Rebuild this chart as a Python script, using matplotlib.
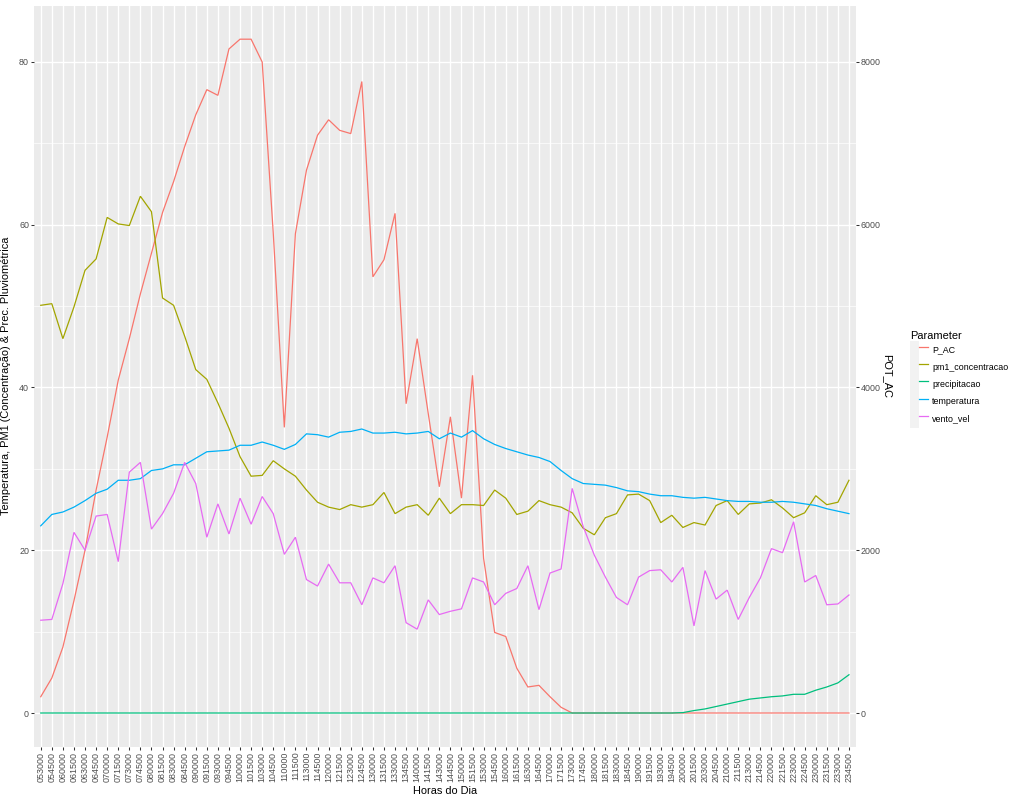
#!/usr/bin/env python3
"""
Daily profile of PV power (POT_AC) against weather parameters, ggplot-like look.
"""

import matplotlib

matplotlib.use("Agg")
import matplotlib.pyplot as plt
from matplotlib.lines import Line2D
from matplotlib.patches import Rectangle
from matplotlib.legend_handler import HandlerTuple

plt.rcParams["font.family"] = ["Liberation Sans", "DejaVu Sans"]

horas = [
    "053000", "054500", "060000", "061500", "063000", "064500", "070000", "071500",
    "073000", "074500", "080000", "081500", "083000", "084500", "090000", "091500",
    "093000", "094500", "100000", "101500", "103000", "104500", "110000", "111500",
    "113000", "114500", "120000", "121500", "123000", "124500", "130000", "131500",
    "133000", "134500", "140000", "141500", "143000", "144500", "150000", "151500",
    "153000", "154500", "160000", "161500", "163000", "164500", "170000", "171500",
    "173000", "174500", "180000", "181500", "183000", "184500", "190000", "191500",
    "193000", "194500", "200000", "201500", "203000", "204500", "210000", "211500",
    "213000", "214500", "220000", "221500", "223000", "224500", "230000", "231500",
    "233000", "234500",
]

# POT_AC (W), shown on the secondary axis (scale 1:100)
pot_ac = [
    200, 430, 810, 1380, 2000, 2740, 3390, 4090, 4600, 5150,
    5650, 6150, 6530, 6960, 7350, 7660, 7590, 8160, 8280, 8280,
    8000, 5900, 3510, 5890, 6670, 7100, 7290, 7160, 7120, 7760,
    5360, 5570, 6140, 3800, 4600, 3680, 2780, 3640, 2640, 4150,
    1900, 990, 940, 550, 320, 340, 200, 70, 0, 0,
    0, 0, 0, 0, 0, 0, 0, 0, 0, 0,
    0, 0, 0, 0, 0, 0, 0, 0, 0, 0,
    0, 0, 0, 0,
]

pm1_concentracao = [
    50.1, 50.3, 46.0, 49.9, 54.4, 55.8, 60.9, 60.1, 59.9, 63.5,
    61.6, 51.0, 50.1, 46.3, 42.2, 41.0, 38.1, 35.0, 31.5, 29.1,
    29.2, 31.0, 30.0, 29.1, 27.4, 25.9, 25.3, 25.0, 25.6, 25.3,
    25.6, 27.1, 24.5, 25.3, 25.6, 24.3, 26.4, 24.5, 25.6, 25.6,
    25.5, 27.4, 26.4, 24.4, 24.8, 26.1, 25.6, 25.3, 24.6, 22.7,
    21.9, 24.0, 24.5, 26.8, 26.9, 26.1, 23.4, 24.3, 22.8, 23.4,
    23.1, 25.5, 26.1, 24.4, 25.7, 25.8, 26.2, 25.2, 24.0, 24.6,
    26.7, 25.6, 25.9, 28.6,
]

precipitacao = [
    0, 0, 0, 0, 0, 0, 0, 0, 0, 0,
    0, 0, 0, 0, 0, 0, 0, 0, 0, 0,
    0, 0, 0, 0, 0, 0, 0, 0, 0, 0,
    0, 0, 0, 0, 0, 0, 0, 0, 0, 0,
    0, 0, 0, 0, 0, 0, 0, 0, 0, 0,
    0, 0, 0, 0, 0, 0, 0, 0, 0.05, 0.3,
    0.5, 0.8, 1.1, 1.4, 1.7, 1.85, 2.0, 2.1, 2.3, 2.3,
    2.8, 3.2, 3.7, 4.7,
]

temperatura = [
    23.0, 24.4, 24.7, 25.3, 26.1, 27.0, 27.5, 28.6, 28.6, 28.8,
    29.8, 30.0, 30.5, 30.5, 31.3, 32.1, 32.2, 32.3, 32.9, 32.9,
    33.3, 32.9, 32.4, 33.0, 34.3, 34.2, 33.9, 34.5, 34.6, 34.9,
    34.4, 34.4, 34.5, 34.3, 34.4, 34.6, 33.7, 34.4, 33.9, 34.7,
    33.7, 33.0, 32.5, 32.1, 31.7, 31.4, 30.9, 29.8, 28.8, 28.2,
    28.1, 28.0, 27.7, 27.3, 27.2, 26.9, 26.7, 26.7, 26.5, 26.4,
    26.5, 26.3, 26.1, 26.0, 26.0, 25.9, 25.9, 26.0, 25.9, 25.7,
    25.5, 25.1, 24.8, 24.5,
]

vento_vel = [
    11.4, 11.5, 15.9, 22.2, 20.0, 24.2, 24.4, 18.6, 29.6, 30.8,
    22.6, 24.5, 27.0, 30.8, 28.2, 21.6, 25.7, 22.0, 26.4, 23.2,
    26.6, 24.5, 19.5, 21.6, 16.4, 15.6, 18.3, 16.0, 16.0, 13.3,
    16.6, 16.0, 18.1, 11.1, 10.3, 13.9, 12.1, 12.5, 12.8, 16.6,
    16.1, 13.3, 14.7, 15.3, 18.1, 12.7, 17.2, 17.7, 27.6, 22.9,
    19.4, 16.7, 14.2, 13.3, 16.7, 17.5, 17.6, 16.1, 17.9, 10.7,
    17.5, 14.0, 15.1, 11.5, 14.2, 16.6, 20.2, 19.7, 23.5, 16.1,
    16.9, 13.3, 13.4, 14.5,
]

ESCALA = 100.0
parametros = ["P_AC", "pm1_concentracao", "precipitacao", "temperatura", "vento_vel"]
cores = ["#F8766D", "#A3A500", "#00BF7D", "#00B0F6", "#E76BF3"]
series = [
    [v / ESCALA for v in pot_ac],
    pm1_concentracao,
    precipitacao,
    temperatura,
    vento_vel,
]

W, H = 1024, 800
fig = plt.figure(figsize=(W / 100, H / 100), dpi=100)
ax = fig.add_axes([34.1 / W, 1 - 746.7 / H, (855.6 - 34.1) / W, (746.7 - 5.5) / H])
ax.set_facecolor("#EBEBEB")
for s in ax.spines.values():
    s.set_visible(False)

x = list(range(len(horas)))
for nome, cor, ys in zip(parametros, cores, series):
    ax.plot(x, ys, color=cor, linewidth=0.9, label=nome, zorder=3,
            solid_joinstyle="miter")

todos = [v for ys in series for v in ys]
lo, hi = min(todos), max(todos)
pad = 0.05 * (hi - lo)
ax.set_ylim(lo - pad, hi + pad)
ax.set_xlim(-0.6, len(horas) - 1 + 0.6)

ax.set_yticks([0, 20, 40, 60, 80])
ax.set_yticks([10, 30, 50, 70], minor=True)
ax.set_xticks(x)
ax.set_xticklabels(horas, rotation=90)
ax.grid(True, which="major", color="white", linewidth=1.0)
ax.grid(True, which="minor", axis="y", color="white", linewidth=0.5)
ax.set_axisbelow(True)

tick_kw = dict(colors="#333333", labelcolor="#4D4D4D", length=2.0, width=0.75,
               labelsize=6.4, pad=1.6)
ax.tick_params(axis="both", which="major", **tick_kw)
ax.tick_params(axis="y", which="minor", length=0)

ax.set_xlabel("Horas do Dia", fontsize=7.9, labelpad=3)
ax.set_ylabel("Temperatura, PM1 (Concentração) & Prec. Pluviométrica",
              fontsize=7.9, labelpad=6)

sec = ax.secondary_yaxis("right", functions=(lambda v: v * ESCALA, lambda v: v / ESCALA))
sec.set_yticks([0, 2000, 4000, 6000, 8000])
sec.tick_params(axis="y", which="major", **tick_kw)
sec.tick_params(axis="y", which="minor", length=0)
for s in sec.spines.values():
    s.set_visible(False)
sec.set_ylabel("POT_AC", fontsize=7.9, rotation=270, labelpad=1, va="bottom")

# legend with grey key boxes like ggplot
handles = []
for cor in cores:
    fundo = Rectangle((0, 0), 1, 1, facecolor="#F2F2F2", edgecolor="none")
    linha = Line2D([], [], color=cor, linewidth=0.9)
    handles.append((fundo, linha))
leg = fig.legend(handles, parametros, handler_map={tuple: HandlerTuple(ndivide=None, pad=0)},
                 loc="upper left", bbox_to_anchor=(910 / W, 1 - 331 / H),
                 frameon=False, fontsize=6.4, title="Parameter", title_fontsize=7.9,
                 alignment="left", handlelength=2.05, handleheight=2.62,
                 labelspacing=0.0, handletextpad=0.45, borderpad=0.0, borderaxespad=0.0)

fig.savefig("out.png", dpi=100)
plt.close(fig)
